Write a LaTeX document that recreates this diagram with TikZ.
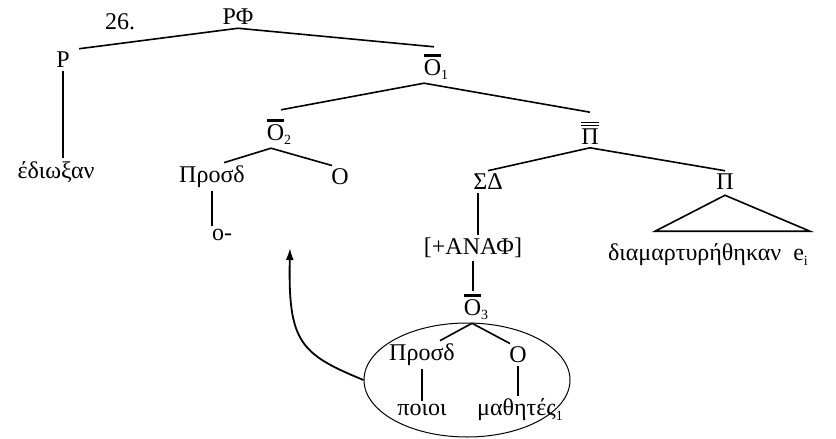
\documentclass[tikz,border=0pt]{standalone}
\usepackage{fontspec}
\setmainfont{Liberation Serif}
\usetikzlibrary{arrows.meta,shapes.geometric,calc}
% small lowered index
\newcommand\idx[1]{\raisebox{-2.2pt}{\fontsize{7}{8}\selectfont #1}}
% O with a heavy bar and an index
\newcommand\barO[1]{\leavevmode\rlap{\raisebox{9.2pt}{\rule{8.6pt}{1.4pt}}}Ο\idx{#1}}
% Pi with a double bar
\newcommand\dbarPi{\leavevmode\rlap{\raisebox{9.2pt}{\rule{8.6pt}{0.6pt}}}\rlap{\raisebox{10.8pt}{\rule{8.6pt}{0.6pt}}}Π}
\begin{document}
\begin{tikzpicture}[x=0.5pt,y=-0.5pt,
  lbl/.style={inner sep=1.5pt, font=\fontsize{12}{14}\selectfont},
  edge/.style={line width=0.8pt}]
\useasboundingbox (0,0) rectangle (836,439);

% labels
\node[lbl] (num)   at (120,22)  {26.};
\node[lbl] (RF)    at (238,17)  {ΡΦ};
\node[lbl] (P)     at (63,60)   {Ρ};
\node[lbl] (V1)    at (56,172)  {έδιωξαν};
\node[lbl] (O1)    at (436,67)  {\barO{1}};
\node[lbl] (O2)    at (279,132) {\barO{2}};
\node[lbl] (Pbb)   at (590,133) {\dbarPi};
\node[lbl] (Pr1)   at (212,177) {Προσδ};
\node[lbl] (Om1)   at (340,177) {Ο};
\node[lbl] (o)     at (222,235) {ο-};
\node[lbl] (SD)    at (488,182) {ΣΔ};
\node[lbl] (Pi)    at (725,182) {Π};
\node[lbl] (ANAF)  at (473,248) {[+ΑΝΑΦ]};
\node[lbl] (diam)  at (708,255) {διαμαρτυρήθηκαν\ \ e\idx{i}};
\node[lbl] (O3)    at (476,307) {\barO{3}};
\node[lbl] (Pr2)   at (422,355) {Προσδ};
\node[lbl] (Om2)   at (518,355) {Ο};
\node[lbl] (poioi) at (422,410) {ποιοι};
\node[lbl] (math)  at (520,410) {μαθητές\idx{1}};

% branches
\draw[edge] (RF.south) -- ([xshift=3pt]P.north east);
\draw[edge] (RF.south) -- ([xshift=-1pt,yshift=2pt]O1.north);
\draw[edge] (P.south) -- (P.south |- V1.north);
\draw[edge] ([xshift=-6pt]O1.south) -- ([xshift=1pt,yshift=3pt]O2.north);
\draw[edge] ([xshift=-6pt]O1.south) -- ([yshift=3pt]Pbb.north);
\draw[edge] ([xshift=-4pt]O2.south) -- ([xshift=6pt]Pr1.north);
\draw[edge] ([xshift=-4pt]O2.south) -- ([xshift=-4pt]Om1.north);
\draw[edge] (Pr1.south) -- (Pr1.south |- o.north);
\draw[edge] (Pbb.south) -- (SD.north);
\draw[edge] (Pbb.south) -- (Pi.north);
\draw[edge] ([xshift=-5pt]SD.south) -- ([xshift=-5pt]SD.south |- ANAF.north);
\draw[edge] (ANAF.south) -- (ANAF.south |- O3.north);
\draw[edge] ([xshift=-2pt]O3.south) -- ([xshift=9pt]Pr2.north);
\draw[edge] ([xshift=-2pt]O3.south) -- ([xshift=-4pt]Om2.north);
\draw[edge] (Pr2.south) -- (poioi.north);
\draw[edge] (Om2.south) -- (Om2.south |- math.north);

% collapsed constituent
\draw[edge] ([yshift=-1pt]Pi.south) -- ($(Pi.south)+(-70,38)$) -- ($(Pi.south)+(85,38)$) -- cycle;

% encircled wh-phrase and movement arrow
\node[draw, ellipse, line width=0.5pt, minimum width=103pt, minimum height=57pt, inner sep=0pt] (ring) at (467,380) {};
\coordinate (land) at (290,248);
\draw[line width=0.9pt, -{Latex[length=6pt,width=4pt]}] (ring.west) .. controls (300,354) and (288,342) .. (land);
\end{tikzpicture}
\end{document}
